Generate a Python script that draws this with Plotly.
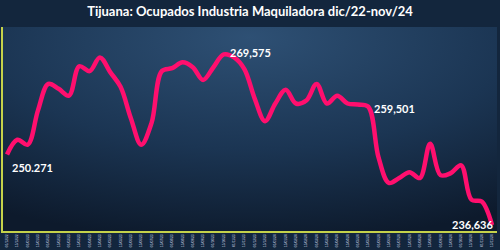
import plotly.graph_objects as go
import base64

values = [250271, 253110, 252164, 258788, 263897, 262951, 261626, 267304, 266358, 269007,
          266168, 263330, 257274, 252164, 256327, 266358, 266925, 268061, 267115, 264654,
          267115, 269575, 269007, 266736, 261059, 256706, 260112, 262762, 260112, 260680,
          263897, 260112, 261626, 260112, 259923, 259501, 249704, 244783, 245729, 246865,
          245729, 252353, 246297, 246676, 248190, 241566, 241187, 236636]

# two tick labels per month from dic/22 to nov/24
tick_labels = []
seq = [("12", "22")] + [(f"{m:02d}", "23") for m in range(1, 13)] + [(f"{m:02d}", "24") for m in range(1, 12)]
for mm, yy in seq:
    tick_labels.append(f"01/{mm}/{yy}")
    tick_labels.append(f"15/{mm}/{yy}")
tick_labels = tick_labels[:len(values)]

label_points = {0: "250.271", 21: "269,575", 35: "259,501", 47: "236,636"}

x = list(range(len(values)))

svg = """<svg xmlns='http://www.w3.org/2000/svg' width='500' height='250'>
<defs><radialGradient id='g' cx='0.5' cy='0.1' r='0.95' fx='0.5' fy='0.05'>
<stop offset='0' stop-color='#2e5074'/><stop offset='0.55' stop-color='#1b3553'/>
<stop offset='1' stop-color='#0d1a2c'/></radialGradient></defs>
<rect width='500' height='250' fill='url(#g)'/></svg>"""
bg = "data:image/svg+xml;base64," + base64.b64encode(svg.encode()).decode()

fig = go.Figure()
fig.add_trace(go.Scatter(x=x, y=values, mode="lines",
                         line=dict(color="#ff0f6e", width=4.5, shape="spline", smoothing=1.0),
                         hoverinfo="skip"))

offsets = {0: dict(xanchor="left", yanchor="top", xshift=3, yshift=-4),
           21: dict(xanchor="left", yanchor="middle", xshift=4, yshift=2),
           35: dict(xanchor="left", yanchor="middle", xshift=4, yshift=-2),
           47: dict(xanchor="right", yanchor="middle", xshift=3, yshift=1)}
for i, txt in label_points.items():
    fig.add_annotation(x=x[i], y=values[i], text=f"<b>{txt}</b>", showarrow=False,
                       font=dict(family="Lato", size=11, color="white"), **offsets[i])

fig.update_layout(
    width=500, height=250,
    margin=dict(l=3, r=3, t=27, b=15),
    paper_bgcolor="#13263d", plot_bgcolor="rgba(0,0,0,0)",
    showlegend=False,
    title=dict(text="<b>Tijuana: Ocupados Industria Maquiladora dic/22-nov/24</b>",
               x=0.5, xanchor="center", y=0.955, yanchor="middle",
               font=dict(family="Lato", size=13, color="white")),
    images=[dict(source=bg, xref="paper", yref="paper", x=0, y=1, sizex=1, sizey=1,
                 xanchor="left", yanchor="top", sizing="stretch", layer="below")],
)
fig.update_xaxes(range=[-0.39, 47.48], tickmode="array", tickvals=x, ticktext=tick_labels,
                 tickangle=-90, tickfont=dict(size=3.3, color="#c9d3e0", family="Liberation Sans"),
                 showgrid=False, zeroline=False, showline=True, linecolor="#c5d24a", linewidth=2,
                 ticks="")
fig.update_yaxes(range=[235510, 274874], showticklabels=False, showgrid=False, zeroline=False,
                 showline=True, linecolor="#c5d24a", linewidth=2, ticks="")

fig.write_html("out.html")
